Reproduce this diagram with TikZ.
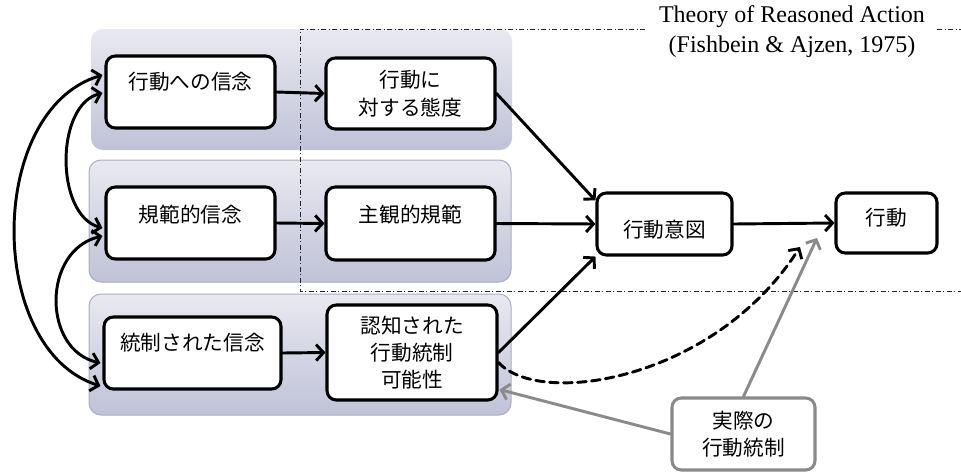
\documentclass[tikz,border=0pt]{standalone}
\usepackage{fontspec}
\setmainfont{Liberation Serif}
\newfontfamily\jpfont{Noto Sans CJK JP}
\usetikzlibrary{arrows.meta,calc}

\definecolor{panelTop}{HTML}{E9E9F1}
\definecolor{panelBot}{HTML}{C0C2D7}
\definecolor{panelEdge}{HTML}{ABADC2}
\definecolor{ctrlgray}{HTML}{8A8A8A}

\begin{document}
\begin{tikzpicture}[x=0.75pt, y=-0.75pt,
  >={Straight Barb[length=5.5pt,width=12pt]},
  every node/.style={font=\jpfont\fontsize{15.5}{20.5}\selectfont},
  box/.style={draw=black, line width=2.3pt, rounded corners=7pt, fill=white,
    align=center, inner sep=0pt},
  sz/.style 2 args={minimum width=#1*0.75pt, minimum height=#2*0.75pt},
  one/.style={text height=0.8em, text depth=0.04em},
  panel/.style={rounded corners=9pt, top color=panelTop, bottom color=panelBot},
  edged/.style={draw=panelEdge, line width=0.75pt},
  link/.style={->, line width=2.2pt, line cap=round, line join=round},
  frame/.style={draw=black!85, line width=0.75pt,
    dash pattern=on 3.5pt off 2pt on 0.75pt off 2pt},
  title/.style={font=\rmfamily\fontsize{18}{22.5}\selectfont, fill=white,
    align=center, inner xsep=8pt, inner ysep=2pt},
]
% canvas
\path[use as bounding box, fill=white] (0,0) rectangle (961,472);

% grouping panels
\path[panel] (91,29) rectangle (512,150);
\path[panel, edged] (89,160) rectangle (511,282);
\path[panel, edged] (89,294) rectangle (511,415);

% Theory of Reasoned Action frame
\draw[frame] (975,29) -- (300,29) -- (300,291) -- (975,291);

% constructs
\node[box, one, sz={169}{72}] (b1) at (190.5,92) {\raisebox{6pt}{行動への信念}};
\node[box, sz={169}{71}] (b2) at (410.5,93.5) {行動に\\対する態度};
\node[box, one, sz={169}{72}] (b3) at (190.5,223) {\raisebox{4.5pt}{規範的信念}};
\node[box, one, sz={169}{73}] (b4) at (410.5,223.5) {\raisebox{4.9pt}{主観的規範}};
\node[box, one, sz={177}{72}] (b5) at (192.5,353) {\raisebox{6pt}{統制された信念}};
\node[box, sz={170}{95}] (b6) at (412,352.5) {認知された\\行動統制\\可能性};
\node[box, one, sz={135}{62}] (b7) at (664.5,224) {\raisebox{-6.5pt}{行動意図}};
\node[box, one, sz={101}{60}] (b8) at (886.5,223) {\raisebox{2.25pt}{行動}};
\node[box, draw=ctrlgray, sz={143}{72}] (b9) at (743.5,434) {実際の\\行動統制};

\coordinate (dashtip) at (800,247);
\coordinate (graytip) at (817,238);

% main paths
\draw[link] (b1.east) -- (b2.west);
\draw[link] (b3.east) -- (b4.west);
\draw[link] (b5.east) -- (b6.west);
\draw[link] (b2.east) -- ($(b7.north west)+(0,9)$);
\draw[link] (b4.east) -- (b7.west);
\draw[link] (b6.east) -- (b7.south west);
\draw[link] (b7.east) -- (b8.west);
\draw[link, dash pattern=on 6.5pt off 4pt]
  ($(b6.east)+(0,10)$) .. controls (540,408) and (715,380) .. (dashtip);

% actual behavioural control
\draw[link, ctrlgray] (b9.north) -- (graytip);
\draw[link, ctrlgray] (b9.west) -- ($(b6.south east)+(1,-12)$);

% correlations between beliefs
\draw[link, <->] ($(b1.west)+(-2,-17)$) .. controls (-14,110) and (-14,350)
  .. ($(b5.west)+(-2,33)$);
\draw[link, <->] ($(b1.west)+(-2,1)$) .. controls (55,105) and (55,215)
  .. ($(b3.west)+(-2,5)$);
\draw[link, <->] ($(b3.west)+(-2,13)$) .. controls (42,250) and (42,350)
  .. ($(b5.west)+(-2,10)$);

% frame title
\node[title] (tra) at (792,32) {Theory of Reasoned Action\\(Fishbein \& Ajzen, 1975)};
\end{tikzpicture}
\end{document}
